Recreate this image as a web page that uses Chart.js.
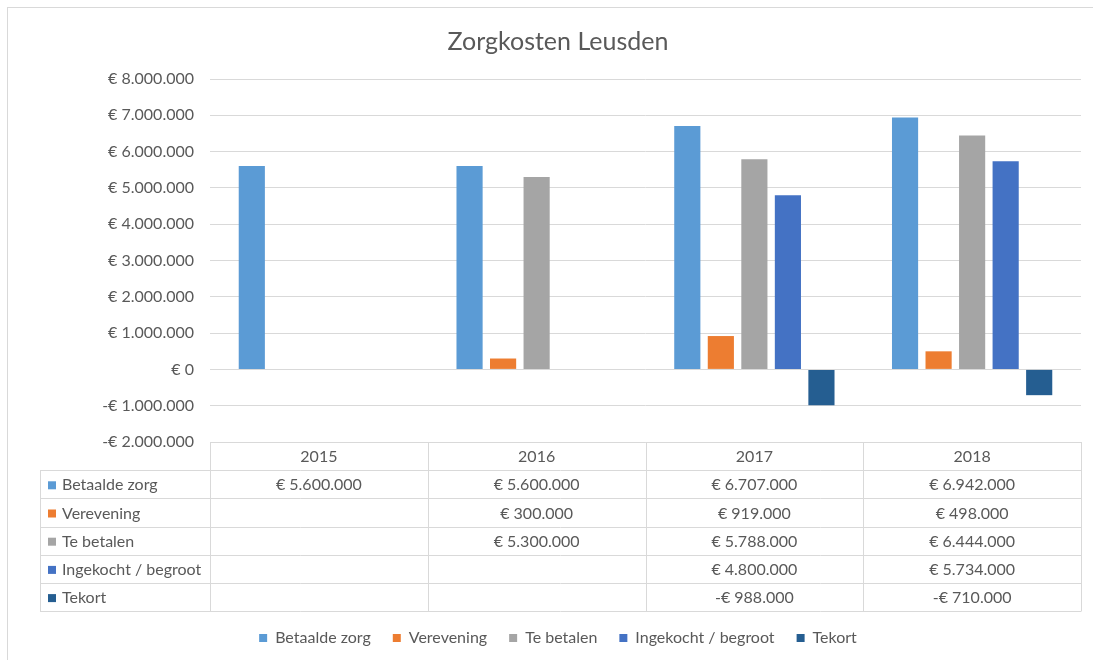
<!DOCTYPE html>
<html>
<head>
<meta charset="utf-8">
<script src="https://cdn.jsdelivr.net/npm/chart.js@4.4.1/dist/chart.umd.min.js"></script>
<style>
  html, body { margin: 0; padding: 0; background: #fff; }
  #wrap { position: relative; width: 1093px; height: 660px; overflow: hidden; }
  #frame { position: absolute; left: 7px; top: 7px; width: 1200px; height: 800px;
           border-left: 1px solid #d9d9d9; border-top: 1px solid #d9d9d9; }
  canvas { position: absolute; left: 0; top: 0; }
</style>
</head>
<body>
<div id="wrap">
  <div id="frame"></div>
  <canvas id="c" width="1093" height="660"></canvas>
</div>
<script>
const YEARS = ["2015", "2016", "2017", "2018"];
const SERIES = ["Betaalde zorg", "Verevening", "Te betalen", "Ingekocht / begroot", "Tekort"];
const betaaldeZorg = [5600000, 5600000, 6707000, 6942000];
const verevening   = [null, 300000, 919000, 498000];
const teBetalen    = [null, 5300000, 5788000, 6444000];
const ingekocht    = [null, null, 4800000, 5734000];
const tekort       = [null, null, -988000, -710000];
const COLORS = ["#5b9bd5", "#ed7d31", "#a5a5a5", "#4472c4", "#255e91"];

const FONT = "Lato, 'Noto Sans', sans-serif";
const TXT = "#595959", LINE = "#d9d9d9";

// "€ 5.600.000" / "-€ 988.000" (nl notation)
const euro = v => {
  const s = Math.abs(Math.round(v)).toString().replace(/\B(?=(\d{3})+(?!\d))/g, ".");
  return (v < 0 ? "-" : "") + "€ " + s;
};

const values = [betaaldeZorg, verevening, teBetalen, ingekocht, tekort];

// ---- data table under the plot, columns follow the x scale
const ROW_H = 28.2, KEY_LEFT = 40;
const dataTable = {
  id: "dataTable",
  afterDraw(chart) {
    const { ctx, chartArea: ca, scales: { x } } = chart;
    const colW = (x.right - x.left) / YEARS.length;
    const top = ca.bottom;
    const nRows = SERIES.length;
    const bottom = top + ROW_H * (nRows + 1);
    ctx.save();
    ctx.strokeStyle = LINE; ctx.lineWidth = 1;
    ctx.beginPath();
    // header row (years only, no key column)
    ctx.moveTo(x.left, top + 0.5); ctx.lineTo(x.right, top + 0.5);
    for (let r = 1; r <= nRows + 1; r++) {
      const y = Math.round(top + ROW_H * r) + 0.5;
      ctx.moveTo(KEY_LEFT, y); ctx.lineTo(x.right, y);
    }
    const yr1 = Math.round(top + ROW_H) + 0.5;
    ctx.moveTo(KEY_LEFT + 0.5, yr1); ctx.lineTo(KEY_LEFT + 0.5, Math.round(bottom) + 0.5);
    for (let i = 0; i <= YEARS.length; i++) {
      const xx = Math.round(x.left + colW * i) + 0.5;
      ctx.moveTo(xx, top); ctx.lineTo(xx, Math.round(bottom) + 0.5);
    }
    ctx.stroke();

    ctx.font = "16px " + FONT;
    ctx.fillStyle = TXT;
    ctx.textBaseline = "middle";
    ctx.textAlign = "center";
    YEARS.forEach((y, i) => ctx.fillText(y, x.getPixelForValue(i), top + ROW_H / 2 + 1));
    SERIES.forEach((name, r) => {
      const cy = top + ROW_H * (r + 1.5) + 1;
      ctx.fillStyle = COLORS[r];
      ctx.fillRect(KEY_LEFT + 8, cy - 4, 8, 8);
      ctx.fillStyle = TXT;
      ctx.textAlign = "left";
      ctx.fillText(name, KEY_LEFT + 22, cy);
      ctx.textAlign = "center";
      values[r].forEach((v, i) => {
        if (v != null) ctx.fillText(euro(v), x.getPixelForValue(i), cy);
      });
    });
    ctx.restore();
  },
};

new Chart(document.getElementById("c"), {
  type: "bar",
  data: {
    labels: YEARS,
    datasets: SERIES.map((s, i) => ({
      label: s, data: values[i], backgroundColor: COLORS[i],
      categoryPercentage: 0.77, barPercentage: 0.78,
    })),
  },
  options: {
    responsive: false, animation: false,
    layout: { padding: { left: 35, right: 12, top: 0, bottom: 4 } },
    plugins: {
      title: { display: true, text: "Zorgkosten Leusden", color: TXT,
        font: { family: FONT, size: 25, weight: "normal" }, padding: { top: 27, bottom: 22 } },
      legend: { position: "bottom",
        labels: { color: TXT, font: { family: FONT, size: 16 }, boxWidth: 8, boxHeight: 8, padding: 22 } },
      tooltip: { callbacks: { label: c => `${c.dataset.label}: ${euro(c.raw)}` } },
    },
    scales: {
      x: { grid: { display: false }, border: { display: false }, ticks: { display: false },
        afterFit(axis) { axis.height = 166; } },
      y: { min: -2000000, max: 8000000,
        grid: { color: LINE, drawTicks: false }, border: { display: false },
        ticks: { stepSize: 1000000, padding: 16, color: TXT, font: { family: FONT, size: 16 },
          callback: v => euro(v) },
        afterFit(axis) { axis.width = 175; } },
    },
  },
  plugins: [dataTable],
});
</script>
</body>
</html>
